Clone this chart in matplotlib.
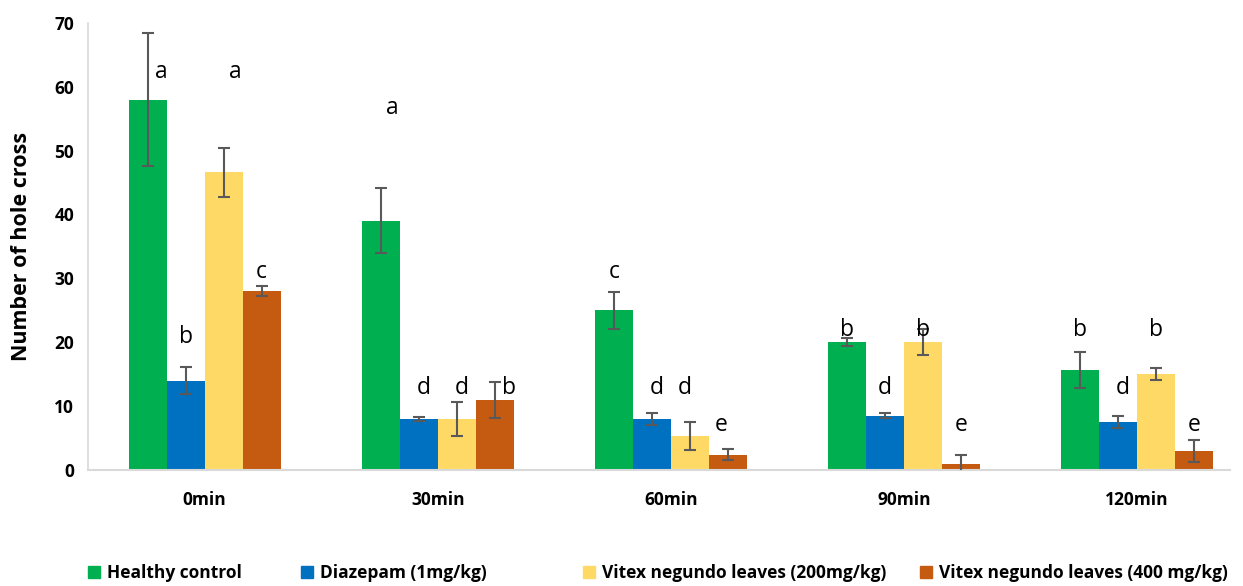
import numpy as np
import matplotlib
matplotlib.use("Agg")
import matplotlib.pyplot as plt
from matplotlib.patches import Patch

plt.rcParams['font.family'] = ['Open Sans', 'DejaVu Sans']

times = ["0min", "30min", "60min", "90min", "120min"]
groups = ["Healthy control", "Diazepam (1mg/kg)",
          "Vitex negundo leaves (200mg/kg)", "Vitex negundo leaves (400 mg/kg)"]
colors = ["#00B050", "#0070C0", "#FFD966", "#C55A11"]

healthy = [58, 39, 25, 20, 15.6]
healthy_err = [10.4, 5.1, 2.9, 0.6, 2.8]
diazepam = [14, 8, 8, 8.5, 7.5]
diazepam_err = [2.1, 0.3, 0.9, 0.4, 0.9]
vitex200 = [46.6, 8, 5.3, 20, 15]
vitex200_err = [3.8, 2.7, 2.2, 2.0, 0.9]
vitex400 = [28, 11, 2.4, 0.9, 3]
vitex400_err = [0.8, 2.8, 0.9, 1.5, 1.7]

# significance letters and their heights
letters = [["a", "a", "c", "b", "b"],
           ["b", "d", "d", "d", "d"],
           ["a", "d", "d", "b", "b"],
           ["c", "b", "e", "e", "e"]]
letter_y = [[62.3, 56.7, 31, 21.9, 21.9],
            [20.8, 12.8, 12.8, 12.8, 12.8],
            [62.3, 12.8, 12.8, 21.9, 21.9],
            [31, 12.8, 7, 7, 7]]
letter_dx = [[0.06, 0.05, 0, 0, 0],
             [0, 0.02, 0.02, 0, 0.02],
             [0.05, 0.02, -0.02, 0, 0],
             [0, 0.06, -0.03, 0, 0]]

values = [healthy, diazepam, vitex200, vitex400]
errors = [healthy_err, diazepam_err, vitex200_err, vitex400_err]

fig = plt.figure(figsize=(12.43, 5.86), dpi=100)
ax = fig.add_axes([0.0708, 0.198, 0.919, 0.763])

x = np.arange(len(times))
w = 0.163
for i in range(4):
    pos = x + (i - 1.5) * w
    ax.bar(pos, values[i], w, color=colors[i], zorder=2)
    ax.errorbar(pos, values[i], yerr=errors[i], fmt='none', ecolor="#595959",
                elinewidth=1.5, capsize=4.5, capthick=1.5, zorder=3)
    for j in range(len(times)):
        ax.text(pos[j] + letter_dx[i][j], letter_y[i][j], letters[i][j],
                ha='center', va='center', fontsize=16.5, color='black', zorder=4)

ax.set_xlim(-0.5, 4.4)
ax.set_ylim(0, 70)
ax.set_yticks(range(0, 71, 10))
ax.set_xticks(x)
ax.set_xticklabels(times, fontweight='bold', fontsize=12.5)
for lab in ax.get_yticklabels():
    lab.set_fontweight('bold')
    lab.set_fontsize(12.5)
ax.tick_params(axis='both', length=0)
ax.tick_params(axis='x', pad=15)
ax.tick_params(axis='y', pad=10)
ax.set_ylabel("Number of hole cross", fontweight='bold', fontsize=15.5, labelpad=16)

for s in ['top', 'right']:
    ax.spines[s].set_visible(False)
ax.spines['left'].set_color('#d9d9d9')
ax.spines['bottom'].set_color('#d9d9d9')
ax.spines['left'].set_linewidth(1.2)
ax.spines['bottom'].set_linewidth(1.5)

leg_x = [0.064, 0.235, 0.462, 0.733]
for i in range(4):
    leg = fig.legend(handles=[Patch(color=colors[i])], labels=[groups[i]],
                     loc='center left', bbox_to_anchor=(leg_x[i], 0.022),
                     frameon=False, handlelength=0.7, handleheight=0.7,
                     handletextpad=0.4, borderpad=0,
                     prop={'weight': 'bold', 'size': 12.5})

fig.savefig("out.png", dpi=100)
